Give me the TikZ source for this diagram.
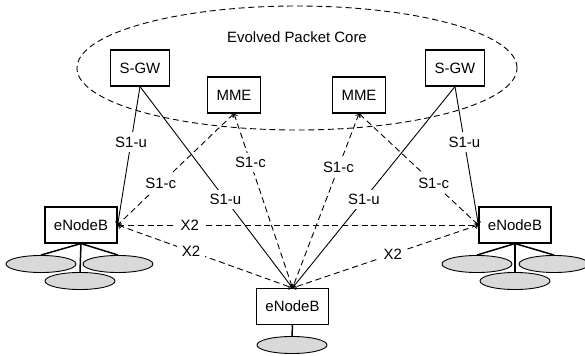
\documentclass[tikz,border=0pt]{standalone}
\usepackage{fontspec}
\setmainfont{Liberation Sans}
\usetikzlibrary{shapes.geometric}
\begin{document}
\begin{tikzpicture}[x=0.0235cm,y=-0.0235cm,>=to,
  box/.style={draw,line width=0.8pt,inner xsep=6pt,minimum height=24pt},
  cell/.style={draw,ellipse,fill=gray!30,line width=0.6pt,inner sep=0pt,minimum width=46.8pt,minimum height=11.4pt},
  lbl/.style={fill=white,inner sep=3pt},
  link/.style={line width=0.6pt},
  ctrl/.style={line width=0.6pt,dash pattern=on 4pt off 2.5pt}]
\useasboundingbox (0,0) rectangle (585,356);

% core network
\draw [ctrl] (297,68) ellipse [x radius=5.17cm,y radius=1.457cm];
\node (core) at (297,37) {Evolved Packet Core};

\node [box] (sgwL) at (140,68) {S-GW};
\node [box] (mmeL) at (234,95) {MME};
\node [box] (mmeR) at (359,95) {MME};
\node [box] (sgwR) at (455,68) {S-GW};

% base stations
\node [box] (enbL) at (81,225) {eNodeB};
\node [box] (enbR) at (515,225) {eNodeB};
\node [box] (enbB) at (292.5,306.5) {eNodeB};

% cells
\node [cell] (cL1) at (41,264) {};
\node [cell] (cL2) at (118,264) {};
\node [cell] (cL3) at (80,281) {};
\node [cell] (cR1) at (477,264) {};
\node [cell] (cR2) at (554,264) {};
\node [cell] (cR3) at (515,281) {};
\node [cell] (cB) at (292,345) {};

\foreach \e/\c in {enbL/cL1,enbL/cL2,enbL/cL3,enbR/cR1,enbR/cR2,enbR/cR3,enbB/cB}
{
    \draw [line width=1pt] (\e.south) -- (\c.north);
}

% user plane
\draw [link,->] (sgwL.south) -- node[lbl,pos=.40]{S1-u} (enbL.east);
\draw [link,->] (sgwL.south) -- node[lbl,pos=.56]{S1-u} (enbB.north);
\draw [link,->] (sgwR.south) -- node[lbl,pos=.56]{S1-u} (enbB.north);
\draw [link,->] (sgwR.south) -- node[lbl,pos=.40]{S1-u} (enbR.west);

% control plane
\draw [ctrl,<->] (mmeL.south) -- node[lbl,pos=.63]{S1-c} (enbL.east);
\draw [ctrl,<->] (mmeL.south) -- node[lbl,pos=.28]{S1-c} (enbB.north);
\draw [ctrl,<->] (mmeR.south) -- node[lbl,pos=.31]{S1-c} (enbB.north);
\draw [ctrl,<->] (mmeR.south) -- node[lbl,pos=.625]{S1-c} (enbR.west);

% X2
\draw [ctrl,<->] (enbL.east) -- node[lbl,pos=.20]{X2} (enbR.west);
\draw [ctrl,<->] (enbL.east) -- node[lbl,pos=.42]{X2} (enbB.north);
\draw [ctrl,<->] (enbR.west) -- node[lbl,pos=.46]{X2} (enbB.north);

\end{tikzpicture}
\end{document}
